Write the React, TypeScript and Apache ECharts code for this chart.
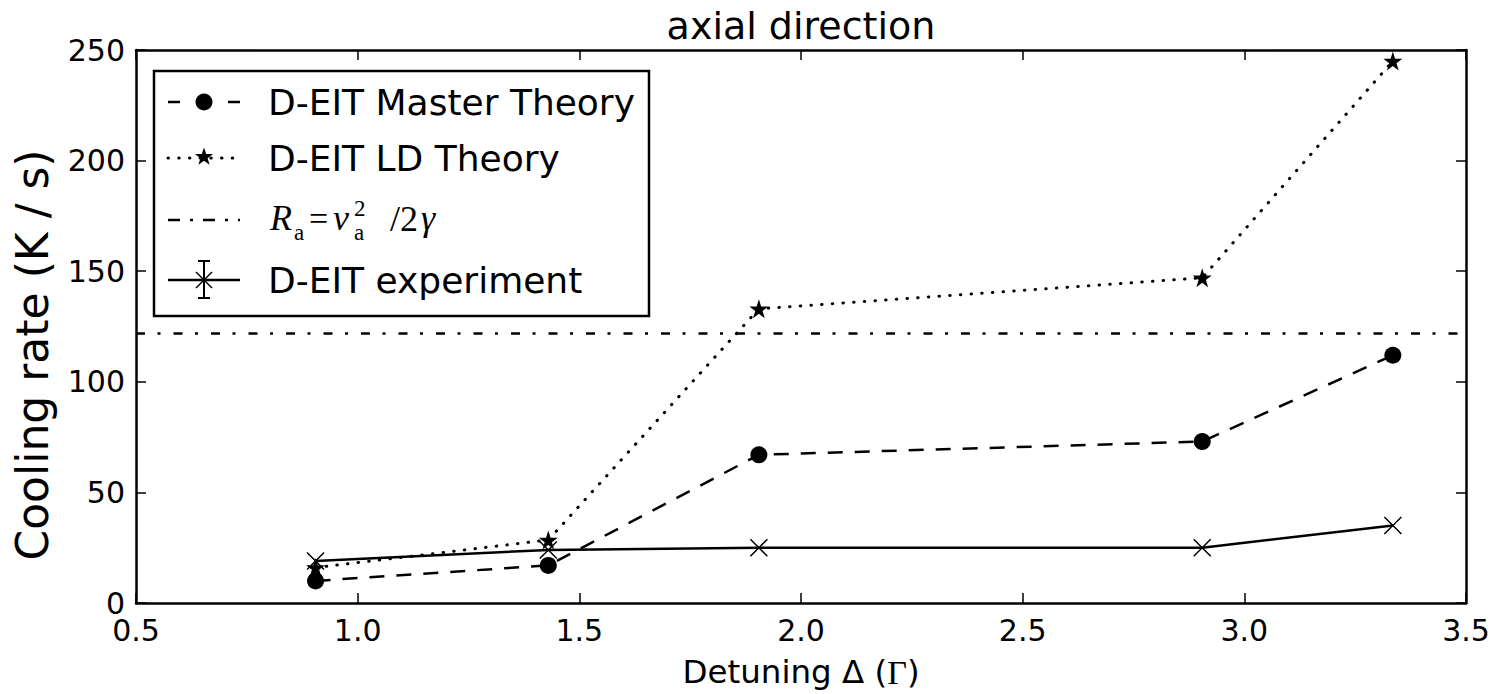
import React, { useEffect, useRef } from "react";
import * as echarts from "echarts";

// ---- data ----
const detuning = [0.905, 1.43, 1.905, 2.905, 3.335];
const masterTheory = [10, 17, 67, 73, 112];
const ldTheory = [16, 28.5, 133, 147, 245];
const experiment = [19, 24, 25, 25, 35];
const raLevel = 122;
const xRange = [0.5, 3.5];
const xStep = 0.5;
const yRange = [0, 250];
const yStep = 50;
const legendLabels = ["D-EIT Master Theory", "D-EIT LD Theory", "R_a", "D-EIT experiment"];
const titleText = "axial direction";
const yLabel = "Cooling rate (K / s)";

const STAR = "path://M50,0 L61.2,34.5 L97.6,34.5 L68.2,55.9 L79.4,90.5 L50,69.1 L20.6,90.5 L31.8,55.9 L2.4,34.5 L38.8,34.5 Z";
const CROSS = "path://M0,0 L10,10 M10,0 L0,10";
const SANS = "DejaVu Sans";
const SERIF = "Liberation Serif";

function starPoints(cx: number, cy: number, r: number) {
  const pts: number[][] = [];
  for (let i = 0; i < 10; i++) {
    const rr = i % 2 === 0 ? r : r * 0.4;
    const a = -Math.PI / 2 + (i * Math.PI) / 5;
    pts.push([cx + rr * Math.cos(a), cy + rr * Math.sin(a)]);
  }
  return pts;
}

export default function App() {
  const ref = useRef<HTMLDivElement>(null);
  useEffect(() => {
    if (!ref.current) return;
    const chart = echarts.init(ref.current, null, { renderer: "svg" });
    const pair = (ys: number[]) => detuning.map((x, i) => [x, ys[i]]);
    const axisCommon = {
      axisLine: { show: true, onZero: false, lineStyle: { color: "#000", width: 2.5 } },
      axisTick: { show: true, inside: true, length: 10, lineStyle: { color: "#000", width: 1.5 } },
      splitLine: { show: false },
    };
    const L0 = 168, L1 = 240, LM = 204, TX = 268;
    const rows = [102, 158, 220, 280];
    const LF = `36px '${SANS}'`;
    const g: any[] = [
      {
        type: "text", x: 801, y: 26,
        style: { text: titleText, font: `38px '${SANS}'`, fill: "#000", align: "center", verticalAlign: "middle" },
      },
      {
        type: "text", x: 32, y: 355, rotation: Math.PI / 2,
        style: { text: yLabel, font: `44px '${SANS}'`, fill: "#000", align: "center", verticalAlign: "middle" },
      },
      {
        type: "rect", shape: { x: 154, y: 71, width: 495, height: 245 },
        style: { fill: "#fff", stroke: "#000", lineWidth: 2.5 }, z: 100,
      },
      // row 1 master theory
      { type: "line", shape: { x1: L0, y1: rows[0], x2: L1, y2: rows[0] }, style: { stroke: "#000", lineWidth: 2.5, lineDash: [12, 48] }, z: 101 },
      { type: "circle", shape: { cx: LM, cy: rows[0], r: 8.5 }, style: { fill: "#000" }, z: 101 },
      { type: "text", x: TX, y: rows[0], style: { text: legendLabels[0], font: LF, fill: "#000", verticalAlign: "middle" }, z: 101 },
      // row 2 LD theory
      { type: "line", shape: { x1: L0, y1: rows[1], x2: L1, y2: rows[1] }, style: { stroke: "#000", lineWidth: 3, lineDash: [0.5, 10.2], lineCap: "round" }, z: 101 },
      { type: "polygon", shape: { points: starPoints(LM, rows[1] - 1, 9.5) }, style: { fill: "#000" }, z: 101 },
      { type: "text", x: TX, y: rows[1], style: { text: legendLabels[1], font: LF, fill: "#000", verticalAlign: "middle" }, z: 101 },
      // row 3 Ra
      { type: "line", shape: { x1: L0, y1: rows[2], x2: L1, y2: rows[2] }, style: { stroke: "#000", lineWidth: 2.5, lineDash: [12, 10, 3, 10] }, z: 101 },
      { type: "text", x: 270, y: 236, style: { text: "R", font: `italic 36px '${SERIF}'`, fill: "#000", verticalAlign: "bottom" }, z: 101 },
      { type: "text", x: 294, y: 244, style: { text: "a", font: `23px '${SERIF}'`, fill: "#000", verticalAlign: "bottom" }, z: 101 },
      { type: "text", x: 309, y: 235, style: { text: "=", font: `34px '${SERIF}'`, fill: "#000", verticalAlign: "bottom" }, z: 101 },
      { type: "text", x: 333, y: 236, style: { text: "ν", font: `italic 36px '${SERIF}'`, fill: "#000", verticalAlign: "bottom" }, z: 101 },
      { type: "text", x: 354, y: 220, style: { text: "2", font: `23px '${SERIF}'`, fill: "#000", verticalAlign: "bottom" }, z: 101 },
      { type: "text", x: 354, y: 244, style: { text: "a", font: `23px '${SERIF}'`, fill: "#000", verticalAlign: "bottom" }, z: 101 },
      { type: "text", x: 390, y: 237, style: { text: "/2", font: `36px '${SERIF}'`, fill: "#000", verticalAlign: "bottom" }, z: 101 },
      { type: "text", x: 421, y: 236, style: { text: "γ", font: `italic 36px '${SERIF}'`, fill: "#000", verticalAlign: "bottom" }, z: 101 },
      // row 4 experiment
      { type: "line", shape: { x1: L0, y1: rows[3], x2: L1, y2: rows[3] }, style: { stroke: "#000", lineWidth: 2.5 }, z: 101 },
      { type: "line", shape: { x1: LM, y1: rows[3] - 19, x2: LM, y2: rows[3] + 18 }, style: { stroke: "#000", lineWidth: 2 }, z: 101 },
      { type: "line", shape: { x1: LM - 6, y1: rows[3] - 19, x2: LM + 6, y2: rows[3] - 19 }, style: { stroke: "#000", lineWidth: 2 }, z: 101 },
      { type: "line", shape: { x1: LM - 6, y1: rows[3] + 18, x2: LM + 6, y2: rows[3] + 18 }, style: { stroke: "#000", lineWidth: 2 }, z: 101 },
      { type: "line", shape: { x1: LM - 8, y1: rows[3] - 8, x2: LM + 8, y2: rows[3] + 8 }, style: { stroke: "#000", lineWidth: 1.5 }, z: 101 },
      { type: "line", shape: { x1: LM + 8, y1: rows[3] - 8, x2: LM - 8, y2: rows[3] + 8 }, style: { stroke: "#000", lineWidth: 1.5 }, z: 101 },
      { type: "text", x: TX, y: rows[3], style: { text: legendLabels[3], font: LF, fill: "#000", verticalAlign: "middle" }, z: 101 },
    ];
    chart.setOption({
      animation: false,
      backgroundColor: "#fff",
      textStyle: { fontFamily: SANS },
      grid: { left: 136, top: 50, width: 1330, height: 557, containLabel: false },
      xAxis: [
        {
          type: "value", min: xRange[0], max: xRange[1], interval: xStep, position: "bottom",
          ...axisCommon,
          axisLabel: { color: "#000", fontSize: 30, fontFamily: SANS, margin: 12, formatter: (v: number) => v.toFixed(1) },
          name: "Detuning Δ ({g|Γ})", nameLocation: "middle", nameGap: 52,
          nameTextStyle: { color: "#000", fontSize: 32.5, fontFamily: SANS, rich: { g: { fontFamily: SERIF, fontSize: 34, color: "#000" } } },
        },
        {
          type: "value", min: xRange[0], max: xRange[1], interval: xStep, position: "top",
          ...axisCommon, axisLabel: { show: false },
        },
      ],
      yAxis: [
        {
          type: "value", min: yRange[0], max: yRange[1], interval: yStep, position: "left",
          ...axisCommon,
          axisLabel: { color: "#000", fontSize: 30, fontFamily: SANS, margin: 11 },
        },
        {
          type: "value", min: yRange[0], max: yRange[1], interval: yStep, position: "right",
          ...axisCommon, axisLabel: { show: false },
        },
      ],
      series: [
        {
          name: legendLabels[0], type: "line", data: pair(masterTheory),
          symbol: "circle", symbolSize: 17, showSymbol: true,
          lineStyle: { color: "#000", width: 2.5, type: [15, 12] },
          itemStyle: { color: "#000" }, z: 3,
        },
        {
          name: legendLabels[1], type: "line", data: pair(ldTheory),
          symbol: STAR, symbolSize: 19,
          lineStyle: { color: "#000", width: 3, type: [0.5, 10.2], cap: "round" },
          itemStyle: { color: "#000" }, z: 3,
          markLine: {
            silent: true, symbol: "none", label: { show: false },
            lineStyle: { color: "#000", width: 2.5, type: [9, 12.5, 3, 13] },
            data: [{ yAxis: raLevel }],
          },
        },
        {
          name: legendLabels[3], type: "line", data: pair(experiment),
          symbol: CROSS, symbolSize: 17,
          lineStyle: { color: "#000", width: 2.5 },
          itemStyle: { color: "none", borderColor: "#000", borderWidth: 1.5 }, z: 4,
        },
      ],
      graphic: g,
    });
    return () => chart.dispose();
  }, []);
  return <div ref={ref} style={{ position: "absolute", left: 0, top: 0, width: 1495, height: 694 }} />;
}
